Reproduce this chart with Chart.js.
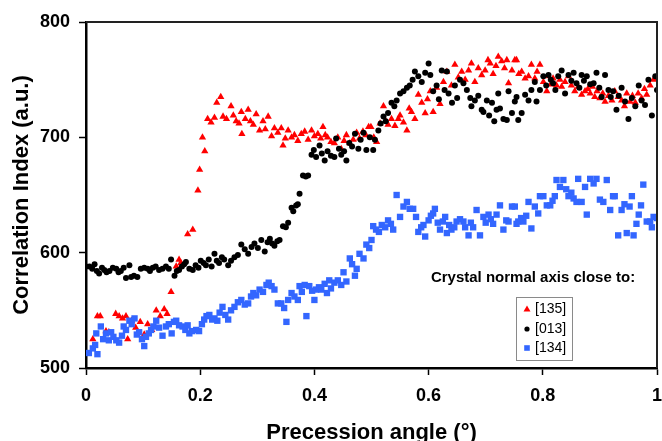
<!DOCTYPE html>
<html>
<head>
<meta charset="utf-8">
<script src="https://cdn.jsdelivr.net/npm/chart.js@4/dist/chart.umd.min.js"></script>
<style>
html,body{margin:0;padding:0;background:#fff;}
canvas{display:block;}
</style>
</head>
<body>
<canvas id="c" width="662" height="441"></canvas>
<script>
// ---------------- DATA ----------------
const seriesNames = ['[135]', '[013]', '[134]'];
const xTickLabels = ['0', '0.2', '0.4', '0.6', '0.8', '1'];
const yTickLabels = ['500', '600', '700', '800'];

const x135 = [0.012,0.02,0.025,0.035,0.04,0.052,0.058,0.064,0.07,0.073,0.08,0.087,0.095,0.102,0.108,0.115,0.123,0.13,0.137,0.142,0.149,0.158,0.163,0.166,0.178,0.187,0.196,0.199,0.204,0.208,0.213,0.219,0.225,0.229,0.236,0.240,0.246,0.254,0.258,0.263,0.268,0.272,0.273,0.279,0.284,0.288,0.293,0.298,0.304,0.310,0.314,0.319,0.325,0.330,0.336,0.342,0.345,0.349,0.354,0.360,0.365,0.371,0.377,0.383,0.389,0.395,0.400,0.406,0.411,0.415,0.419,0.423,0.429,0.435,0.441,0.447,0.452,0.456,0.462,0.468,0.474,0.479,0.485,0.490,0.495,0.499,0.504,0.509,0.515,0.521,0.525,0.529,0.535,0.541,0.547,0.550,0.556,0.562,0.566,0.570,0.576,0.582,0.588,0.594,0.598,0.603,0.608,0.614,0.620,0.626,0.632,0.640,0.646,0.652,0.658,0.664,0.670,0.675,0.681,0.687,0.693,0.699,0.704,0.708,0.713,0.718,0.722,0.728,0.733,0.737,0.740,0.746,0.751,0.754,0.758,0.763,0.769,0.775,0.780,0.786,0.790,0.795,0.801,0.807,0.810,0.814,0.818,0.824,0.830,0.833,0.839,0.845,0.850,0.856,0.862,0.868,0.874,0.879,0.883,0.887,0.891,0.895,0.900,0.905,0.909,0.915,0.921,0.926,0.932,0.938,0.943,0.947,0.953,0.957,0.962,0.967,0.973,0.978,0.982,0.988,0.994,1.0];
const y135 = [525,545,545,532,531,547,545,543,545,525,541,535,540,529,538,533,550,545,551,547,566,588,594,591,616,620,654,672,700,688,716,713,717,730,735,718,716,727,719,714,712,722,703,716,724,714,711,720,706,714,707,718,701,708,704,708,693,699,706,700,702,697,703,705,698,706,701,703,699,709,702,700,696,695,700,690,697,702,695,698,704,699,705,702,709,709,700,696,712,727,714,711,716,710,716,719,713,706,725,722,716,737,730,721,733,740,722,743,729,748,757,745,763,752,757,750,758,764,748,760,754,758,767,764,755,762,770,766,760,767,747,758,767,767,755,757,751,753,763,751,757,763,748,740,753,746,751,745,750,744,748,753,745,740,744,737,740,742,738,744,735,740,734,738,731,736,732,740,735,732,727,738,731,736,730,738,734,742,737,745,750,751];

const x013 = [0.0,0.006,0.011,0.015,0.019,0.023,0.028,0.032,0.036,0.041,0.047,0.053,0.057,0.061,0.066,0.070,0.076,0.079,0.084,0.090,0.096,0.102,0.108,0.112,0.117,0.122,0.128,0.134,0.140,0.145,0.149,0.155,0.159,0.163,0.168,0.172,0.175,0.181,0.187,0.192,0.197,0.201,0.206,0.210,0.215,0.220,0.225,0.229,0.233,0.238,0.242,0.249,0.254,0.260,0.266,0.272,0.278,0.284,0.290,0.295,0.301,0.307,0.313,0.318,0.322,0.326,0.330,0.335,0.339,0.345,0.350,0.354,0.360,0.363,0.368,0.371,0.374,0.380,0.385,0.389,0.395,0.399,0.403,0.409,0.413,0.418,0.423,0.429,0.435,0.438,0.443,0.447,0.452,0.456,0.461,0.466,0.471,0.477,0.481,0.486,0.491,0.497,0.503,0.506,0.512,0.516,0.521,0.525,0.529,0.535,0.540,0.544,0.550,0.556,0.562,0.567,0.572,0.576,0.582,0.588,0.594,0.600,0.603,0.608,0.614,0.618,0.623,0.628,0.632,0.635,0.641,0.646,0.650,0.655,0.661,0.667,0.673,0.675,0.681,0.687,0.693,0.696,0.702,0.706,0.711,0.715,0.719,0.722,0.725,0.731,0.737,0.740,0.746,0.751,0.754,0.757,0.763,0.769,0.775,0.780,0.786,0.789,0.795,0.801,0.806,0.810,0.814,0.818,0.822,0.827,0.833,0.839,0.845,0.850,0.854,0.859,0.864,0.868,0.872,0.877,0.883,0.889,0.894,0.899,0.903,0.909,0.915,0.919,0.923,0.929,0.933,0.938,0.944,0.950,0.956,0.962,0.968,0.973,0.979,0.985,0.991,0.997,1.0];
const y013 = [588,588,586,590,584,582,587,585,583,584,587,586,583,584,587,578,589,579,580,579,586,587,586,584,587,588,585,586,588,586,594,580,584,585,588,590,592,586,585,589,587,593,591,589,594,588,599,593,591,596,594,589,593,596,598,607,603,599,605,608,604,611,601,609,612,608,606,610,611,623,622,626,639,636,641,642,651,667,666,667,685,689,683,693,686,680,688,684,683,699,690,685,688,680,695,692,703,690,698,704,689,700,689,698,706,712,718,714,721,730,727,732,738,740,743,745,750,757,753,748,756,764,754,740,745,733,758,741,757,738,730,745,734,750,747,741,734,727,732,736,724,722,732,719,730,714,724,738,725,716,715,740,721,731,735,715,721,737,732,741,748,731,741,753,745,754,750,747,741,753,758,738,754,749,756,747,743,754,749,753,746,747,756,743,735,754,741,735,740,724,736,743,731,716,734,727,745,732,728,750,719,753,741];

const x134 = [0.005,0.012,0.016,0.018,0.020,0.026,0.030,0.035,0.040,0.044,0.048,0.053,0.058,0.063,0.066,0.070,0.076,0.080,0.085,0.089,0.093,0.098,0.102,0.105,0.110,0.114,0.118,0.123,0.128,0.134,0.140,0.145,0.150,0.154,0.158,0.163,0.169,0.174,0.178,0.181,0.186,0.193,0.198,0.203,0.207,0.211,0.216,0.221,0.225,0.230,0.234,0.239,0.244,0.249,0.254,0.260,0.266,0.272,0.278,0.284,0.289,0.293,0.298,0.304,0.310,0.316,0.320,0.325,0.330,0.336,0.342,0.347,0.351,0.354,0.360,0.365,0.371,0.374,0.378,0.383,0.386,0.391,0.396,0.400,0.403,0.408,0.412,0.418,0.422,0.426,0.429,0.435,0.441,0.447,0.451,0.456,0.462,0.466,0.471,0.474,0.479,0.486,0.491,0.496,0.500,0.503,0.508,0.513,0.518,0.524,0.529,0.534,0.538,0.544,0.550,0.556,0.562,0.567,0.573,0.578,0.582,0.587,0.591,0.594,0.600,0.604,0.608,0.611,0.616,0.620,0.625,0.629,0.632,0.636,0.640,0.645,0.649,0.655,0.661,0.664,0.670,0.674,0.678,0.684,0.690,0.696,0.700,0.705,0.709,0.713,0.719,0.725,0.731,0.736,0.740,0.746,0.751,0.754,0.757,0.762,0.766,0.771,0.775,0.780,0.786,0.792,0.795,0.801,0.807,0.813,0.817,0.821,0.824,0.830,0.836,0.841,0.845,0.850,0.854,0.859,0.862,0.868,0.874,0.877,0.883,0.889,0.894,0.900,0.906,0.912,0.918,0.923,0.926,0.932,0.938,0.943,0.947,0.952,0.956,0.959,0.964,0.968,0.972,0.976,0.982,0.988,0.991,0.994,1.0];
const y134 = [513,517,520,530,512,536,525,530,524,531,527,524,522,528,536,533,541,538,543,529,531,525,519,527,530,533,536,541,535,528,536,538,530,540,541,537,536,533,537,530,532,533,532,538,542,545,546,542,543,541,548,553,546,542,550,553,557,559,555,556,562,565,563,568,566,572,574,571,568,556,556,552,540,559,565,562,559,571,566,572,545,571,567,559,568,570,568,573,565,576,569,574,576,572,583,575,595,590,580,586,599,595,607,604,611,623,620,618,624,622,628,625,620,650,631,640,644,638,638,631,618,622,624,614,628,632,634,638,626,620,627,631,617,624,620,622,627,629,627,622,615,626,622,637,615,631,626,633,629,625,633,641,620,628,627,640,640,625,627,630,627,632,644,621,640,634,649,649,641,641,645,649,663,657,663,655,649,652,647,644,664,644,657,633,664,660,664,646,644,663,637,649,649,615,637,642,617,640,649,615,625,633,641,659,627,627,622,631,630];

// ---------------- STYLE ----------------
const FONT = "'Liberation Sans', Arial, Helvetica, sans-serif";
const RED = '#FF0000', BLACK = '#000000', BLUE = '#3366FF';

function pts(xs, ys) { return xs.map((x, i) => ({ x: x, y: ys[i] })); }

const frame = {
  id: 'frame',
  afterDraw(chart) {
    const { ctx, chartArea: a } = chart;
    ctx.save();
    ctx.strokeStyle = '#222';
    ctx.lineWidth = 2;
    ctx.beginPath();
    ctx.moveTo(a.left, a.top);
    ctx.lineTo(a.right, a.top);
    ctx.lineTo(a.right, a.bottom);
    ctx.stroke();
    ctx.restore();
  }
};

const legendBox = {
  id: 'legendBox',
  afterDraw(chart) {
    const ctx = chart.ctx;
    ctx.save();
    ctx.fillStyle = '#000';
    ctx.font = 'bold 15px ' + FONT;
    ctx.textAlign = 'center';
    ctx.textBaseline = 'middle';
    ctx.fillText('Crystal normal axis close to:', 533, 278);
    // box
    ctx.fillStyle = '#fff';
    ctx.fillRect(516, 297, 57, 64);
    ctx.strokeStyle = '#8a8a8a';
    ctx.lineWidth = 1;
    ctx.strokeRect(516.5, 297.5, 56, 63);
    const rows = [309, 329, 348];
    ctx.font = '14px ' + FONT;
    ctx.textAlign = 'left';
    chart.data.datasets.slice().sort((a, b) => a.legendIndex - b.legendIndex).forEach((ds, i) => {
      const y = rows[i], x = 527;
      ctx.fillStyle = ds.backgroundColor;
      ctx.beginPath();
      if (ds.pointStyle === 'triangle') {
        ctx.moveTo(x, y - 3.5); ctx.lineTo(x + 3.5, y + 2.5); ctx.lineTo(x - 3.5, y + 2.5); ctx.closePath();
      } else if (ds.pointStyle === 'circle') {
        ctx.arc(x, y, 2.6, 0, Math.PI * 2);
      } else {
        ctx.rect(x - 2.8, y - 2.8, 5.6, 5.6);
      }
      ctx.fill();
      ctx.fillStyle = '#000';
      ctx.fillText(ds.label, 535, y);
    });
    ctx.restore();
  }
};

new Chart(document.getElementById('c'), {
  type: 'scatter',
  data: {
    datasets: [
      { label: seriesNames[2], legendIndex: 2, data: pts(x134, y134), pointStyle: 'rect', pointRadius: 4.5, backgroundColor: BLUE, borderColor: BLUE, borderWidth: 0, order: 1 },
      { label: seriesNames[1], legendIndex: 1, data: pts(x013, y013), pointStyle: 'circle', pointRadius: 3, backgroundColor: BLACK, borderColor: BLACK, borderWidth: 0, order: 2 },
      { label: seriesNames[0], legendIndex: 0, data: pts(x135, y135), pointStyle: 'triangle', pointRadius: 4.2, backgroundColor: RED, borderColor: RED, borderWidth: 0, order: 3 }
    ]
  },
  options: {
    responsive: false,
    animation: false,
    events: [],
    layout: { padding: { top: 22, right: 5, left: 0, bottom: 0 } },
    plugins: { legend: { display: false }, tooltip: { enabled: false } },
    scales: {
      x: {
        type: 'linear', position: 'bottom', min: 0, max: 1,
        ticks: { stepSize: 0.2, padding: 10, color: '#000', font: { family: FONT, size: 18, weight: 'bold' },
                 callback: (v, i) => xTickLabels[i] },
        grid: { drawOnChartArea: false, drawTicks: true, tickLength: 7, tickColor: '#000', tickWidth: 1.5 },
        border: { display: true, color: '#000', width: 2.5 },
        title: { display: true, text: 'Precession angle (°)', color: '#000', font: { family: FONT, size: 22, weight: 'bold', lineHeight: 1.2 }, padding: { top: 0, bottom: -5.6 } },
        afterFit: s => { s.height = 73; s.paddingLeft = 0; s.paddingRight = 0; }
      },
      y: {
        type: 'linear', position: 'left', min: 500, max: 800,
        ticks: { stepSize: 100, padding: 9, color: '#000', font: { family: FONT, size: 18, weight: 'bold' },
                 callback: (v, i) => yTickLabels[i] },
        grid: { drawOnChartArea: false, drawTicks: true, tickLength: 7, tickColor: '#000', tickWidth: 1.5 },
        border: { display: true, color: '#000', width: 2.5 },
        title: { display: true, text: 'Correlation Index (a.u.)', color: '#000', font: { family: FONT, size: 22, weight: 'bold', lineHeight: 1.2 }, padding: { top: 9, bottom: 0 } },
        afterFit: s => { s.width = 86; s.paddingTop = 0; s.paddingBottom = 0; }
      }
    }
  },
  plugins: [frame, legendBox]
});
</script>
</body>
</html>
